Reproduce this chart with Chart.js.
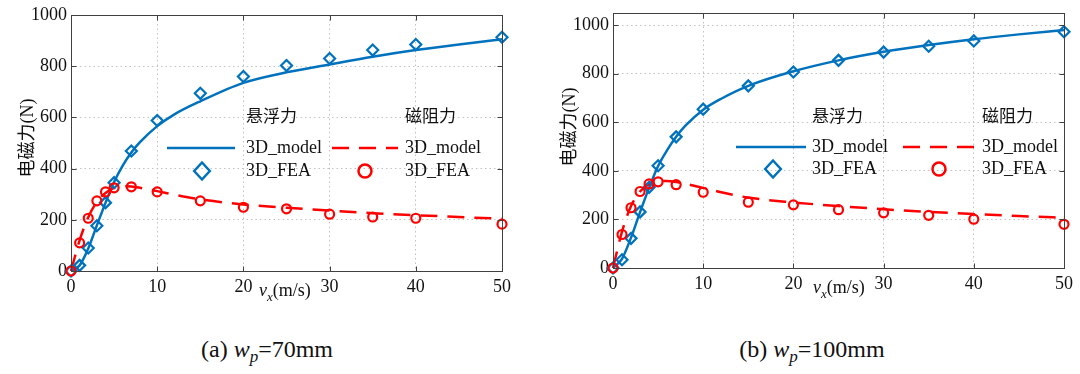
<!DOCTYPE html>
<html>
<head>
<meta charset="utf-8">
<script src="https://cdn.jsdelivr.net/npm/chart.js@4.4.1/dist/chart.umd.min.js"></script>
<style>
  html, body { margin: 0; padding: 0; background: #fff; }
  body { width: 1080px; height: 374px; position: relative; overflow: hidden; }
  canvas { position: absolute; top: 0; }
  .cap { position: absolute; top: 336px; font-family: "Liberation Serif", serif; font-size: 24px; color: #111; white-space: nowrap; transform: translateX(-50%); }
  .cap sub { font-size: 17px; vertical-align: -5px; line-height: 0; }
  .pre { position: absolute; left: -2000px; top: 0; font-family: "Liberation Serif"; font-size: 18px; }
</style>
</head>
<body>
<span class="pre">0123 3D_model <i>v</i> 电磁力</span>
<canvas id="c1" width="540" height="320" style="left:0px"></canvas>
<canvas id="c2" width="540" height="320" style="left:540px"></canvas>
<div class="cap" style="left:267px">(a) <i>w</i><sub><i>p</i></sub>=70mm</div>
<div class="cap" style="left:812px">(b) <i>w</i><sub><i>p</i></sub>=100mm</div>
<script>
// ---- data ----
const speedFEA   = [0, 1, 2, 3, 4, 5, 7, 10, 15, 20, 25, 30, 35, 40, 50];
const speedModel = [0, 1, 2, 3, 4, 5, 6, 7, 8, 10, 12, 15, 20, 25, 30, 35, 40, 45, 50];
const xTicks = [0, 10, 20, 30, 40, 50];
const yTicks = [0, 200, 400, 600, 800, 1000];

// (a) wp = 70mm
const lev70FEA    = [0, 22, 90, 177, 267, 345, 469, 588, 694, 760, 803, 830, 863, 885, 913];
const lev70Model  = [0, 22, 88, 178, 266, 348, 412, 463, 503, 566, 612, 663, 735, 776, 807, 837, 863, 885, 905];
const drag70FEA   = [0, 110, 206, 274, 309, 325, 329, 309, 274, 249, 243, 222, 211, 206, 183];
const drag70Model = [0, 120, 210, 270, 305, 325, 331, 330, 325, 312, 298, 280, 260, 247, 236, 226, 218, 211, 204];

// (b) wp = 100mm
const lev100FEA    = [0, 34, 122, 231, 332, 421, 540, 654, 750, 807, 855, 889, 913, 935, 973];
const lev100Model  = [0, 38, 125, 230, 330, 420, 485, 540, 585, 652, 697, 750, 810, 855, 890, 918, 942, 962, 980];
const drag100FEA   = [0, 138, 248, 315, 346, 355, 343, 312, 271, 260, 240, 227, 217, 201, 180];
const drag100Model = [0, 150, 255, 315, 345, 357, 358, 354, 347, 330, 312, 290, 270, 255, 242, 231, 222, 214, 207];

const yTitle = '电磁力(N)';
const legendHeaders = ['悬浮力', '磁阻力'];
const legendModel = '3D_model';
const legendFEA = '3D_FEA';

const BLUE = '#0072BD';
const RED = '#FF0000';
const SERIF = '"Liberation Serif", "Noto Sans CJK SC", serif';

const pts = (xs, ys) => xs.map((x, i) => ({ x: x, y: ys[i] }));

function drawDiamond(ctx, x, y, r) {
  ctx.beginPath();
  ctx.moveTo(x, y - r); ctx.lineTo(x + r * 0.92, y); ctx.lineTo(x, y + r); ctx.lineTo(x - r * 0.92, y); ctx.closePath();
  ctx.stroke();
}

const decor = {
  id: 'decor',
  afterDraw(chart, args, o) {
    const ctx = chart.ctx, a = chart.chartArea;
    const xs = chart.scales.x, ys = chart.scales.y;
    ctx.save();
    const L = Math.round(a.left) + 0.5, R = Math.round(a.right) + 0.5, T = Math.round(a.top) + 0.5, B = Math.round(a.bottom) + 0.5;
    ctx.strokeStyle = '#404040'; ctx.lineWidth = 1; ctx.setLineDash([]);
    ctx.strokeRect(L, T, R - L, B - T);
    ctx.beginPath();
    xs.ticks.forEach(t => {
      const p = Math.round(xs.getPixelForValue(t.value)) + 0.5;
      ctx.moveTo(p, B); ctx.lineTo(p, B - 5);
      ctx.moveTo(p, T); ctx.lineTo(p, T + 5);
    });
    ys.ticks.forEach(t => {
      const p = Math.round(ys.getPixelForValue(t.value)) + 0.5;
      ctx.moveTo(L, p); ctx.lineTo(L + 5, p);
      ctx.moveTo(R, p); ctx.lineTo(R - 5, p);
    });
    ctx.stroke();

    ctx.fillStyle = '#111';
    ctx.save();
    ctx.translate(o.yTitleX, o.yTitleY);
    ctx.rotate(-Math.PI / 2);
    ctx.font = '18px ' + SERIF;
    ctx.textAlign = 'center'; ctx.textBaseline = 'middle';
    ctx.fillText(yTitle, 0, 0);
    ctx.restore();

    ctx.textBaseline = 'alphabetic'; ctx.textAlign = 'left';
    let x = o.xLabX; const base = o.xLabY;
    ctx.font = 'italic 18px ' + SERIF;
    ctx.fillText('v', x, base); x += ctx.measureText('v').width;
    ctx.font = 'italic 13px ' + SERIF;
    ctx.fillText('x', x, base + 5); x += ctx.measureText('x').width;
    ctx.font = '18px ' + SERIF;
    ctx.fillText('(m/s)', x, base);

    const lg = o.legend;
    ctx.textBaseline = 'middle';
    ctx.font = '17px ' + SERIF;
    ctx.fillText(legendHeaders[0], lg.col1, lg.hy);
    ctx.fillText(legendHeaders[1], lg.col2, lg.hy);
    ctx.font = '18px ' + SERIF;
    ctx.fillText(legendModel, lg.col1, lg.r1);
    ctx.fillText(legendFEA, lg.col1, lg.r2);
    ctx.fillText(legendModel, lg.col2, lg.r1);
    ctx.fillText(legendFEA, lg.col2, lg.r2);
    ctx.lineWidth = 2.5;
    ctx.strokeStyle = BLUE;
    ctx.beginPath(); ctx.moveTo(lg.l1[0], lg.r1); ctx.lineTo(lg.l1[1], lg.r1); ctx.stroke();
    drawDiamond(ctx, lg.dia, lg.r2, 8.5);
    ctx.strokeStyle = RED;
    ctx.setLineDash([17, 10]);
    ctx.beginPath(); ctx.moveTo(lg.l2[0], lg.r1); ctx.lineTo(lg.l2[1], lg.r1); ctx.stroke();
    ctx.setLineDash([]);
    ctx.beginPath(); ctx.arc(lg.cir, lg.r2, 6.5, 0, Math.PI * 2); ctx.stroke();
    ctx.restore();
  }
};

function makeChart(id, levModel, levFEA, dragModel, dragFEA, cfg) {
  const tickFont = { family: SERIF, size: 18, lineHeight: 1 };
  return new Chart(document.getElementById(id), {
    type: 'line',
    data: {
      datasets: [
        { data: pts(speedModel, levModel), borderColor: BLUE, borderWidth: 2.5, pointRadius: 0, cubicInterpolationMode: 'monotone', fill: false, order: 4, clip: false },
        { data: pts(speedModel, dragModel), borderColor: RED, borderWidth: 2.5, borderDash: [17, 10], pointRadius: 0, cubicInterpolationMode: 'monotone', fill: false, order: 3, clip: false },
        { data: pts(speedFEA, levFEA), showLine: false, pointStyle: 'rectRot', pointRadius: 5.5, pointBorderWidth: 2.2, pointBorderColor: BLUE, pointBackgroundColor: 'rgba(0,0,0,0)', order: 2, clip: false },
        { data: pts(speedFEA, dragFEA), showLine: false, pointStyle: 'circle', pointRadius: 4.5, pointBorderWidth: 2.2, pointBorderColor: RED, pointBackgroundColor: 'rgba(0,0,0,0)', order: 1, clip: false }
      ]
    },
    options: {
      responsive: false, animation: false, devicePixelRatio: 1,
      layout: { padding: { left: 0, right: cfg.padR, top: cfg.padT, bottom: 0 } },
      plugins: { legend: { display: false }, tooltip: { enabled: false }, decor: cfg },
      scales: {
        x: {
          type: 'linear', min: xTicks[0], max: xTicks[xTicks.length - 1],
          afterFit: s => { s.height = cfg.xH; },
          afterBuildTicks: s => { s.ticks = xTicks.map(v => ({ value: v })); },
          ticks: { font: tickFont, color: '#111', padding: 7, maxRotation: 0, autoSkip: false, callback: v => String(v) },
          grid: { color: '#c2c2c2', lineWidth: 1, drawTicks: false },
          border: { display: false, dash: [1.5, 3] }
        },
        y: {
          type: 'linear', min: 0, max: cfg.ymax,
          afterFit: s => { s.width = cfg.yW; },
          afterBuildTicks: s => { s.ticks = yTicks.map(v => ({ value: v })); },
          ticks: { font: tickFont, color: '#111', padding: 4, autoSkip: false, callback: v => String(v) },
          grid: { color: '#c2c2c2', lineWidth: 1, drawTicks: false },
          border: { display: false, dash: [1.5, 3] }
        }
      }
    },
    plugins: [decor]
  });
}

function build() {
  makeChart('c1', lev70Model, lev70FEA, drag70Model, drag70FEA, {
    ymax: 1000, yW: 71, xH: 49, padR: 38, padT: 15,
    yTitleX: 28, yTitleY: 138, xLabX: 259, xLabY: 296,
    legend: { col1: 246, col2: 405, hy: 118, r1: 148, r2: 171, l1: [167, 235], dia: 202, l2: [332, 398], cir: 365 }
  });
  makeChart('c2', lev100Model, lev100FEA, drag100Model, drag100FEA, {
    ymax: 1050, yW: 73, xH: 52, padR: 16, padT: 10,
    yTitleX: 30, yTitleY: 127, xLabX: 273, xLabY: 293,
    legend: { col1: 272, col2: 442, hy: 118, r1: 147, r2: 169, l1: [196, 266], dia: 233, l2: [363, 435], cir: 399 }
  });
}

let built = false;
function once() { if (!built) { built = true; build(); } }
if (document.fonts && document.fonts.load) {
  Promise.all([
    document.fonts.load('18px "Liberation Serif"'),
    document.fonts.load('italic 18px "Liberation Serif"'),
    document.fonts.load('18px "Noto Sans CJK SC"', '电磁力悬浮阻')
  ]).then(once, once);
  setTimeout(once, 1500);
} else {
  once();
}
</script>
</body>
</html>
